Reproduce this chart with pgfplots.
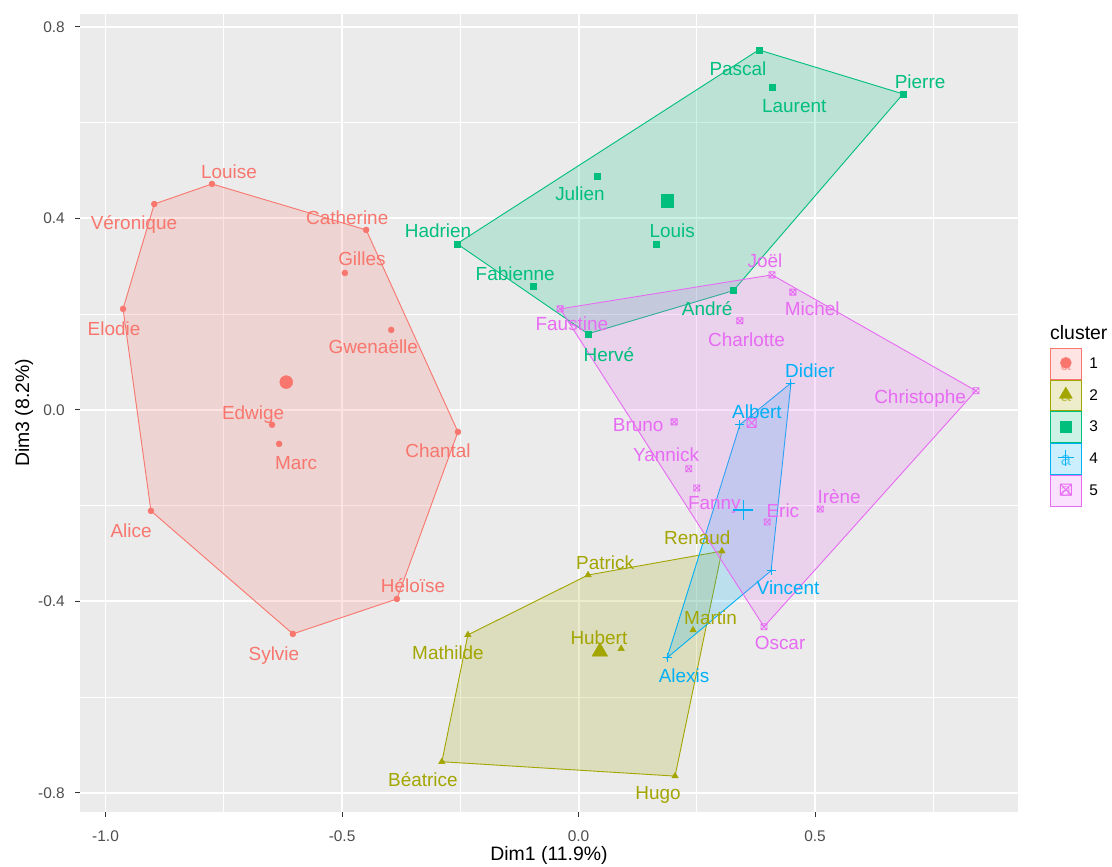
\documentclass[border=0pt]{standalone}
\usepackage{fontspec}
\setmainfont{Liberation Sans}
\usepackage{pgfplots}
\pgfplotsset{compat=1.18}
\usepackage{pgfplotstable}

\definecolor{c1}{HTML}{F8766D}
\definecolor{c2}{HTML}{A3A500}
\definecolor{c3}{HTML}{00BF7D}
\definecolor{c4}{HTML}{00B0F6}
\definecolor{c5}{HTML}{E76BF3}
\definecolor{panel}{HTML}{EBEBEB}
\definecolor{gray30}{HTML}{4D4D4D}
\definecolor{gray20}{HTML}{333333}

\pgfdeclareplotmark{sqx}{%
  \pgfpathrectangle{\pgfqpoint{-\pgfplotmarksize}{-\pgfplotmarksize}}{\pgfqpoint{2\pgfplotmarksize}{2\pgfplotmarksize}}%
  \pgfpathmoveto{\pgfqpoint{-\pgfplotmarksize}{-\pgfplotmarksize}}%
  \pgfpathlineto{\pgfqpoint{\pgfplotmarksize}{\pgfplotmarksize}}%
  \pgfpathmoveto{\pgfqpoint{-\pgfplotmarksize}{\pgfplotmarksize}}%
  \pgfpathlineto{\pgfqpoint{\pgfplotmarksize}{-\pgfplotmarksize}}%
  \pgfusepathqstroke}

\newcommand\labfont{\fontsize{19}{22}\selectfont}
\newcommand\tickfont{\fontsize{15.5}{18}\selectfont}
\newcommand\titlefont{\fontsize{19.5}{23}\selectfont}

% cluster points
\pgfplotstableread{
x y
-0.775 0.472
-0.897 0.430
-0.449 0.376
-0.494 0.286
-0.396 0.167
-0.963 0.211
-0.648 -0.031
-0.633 -0.071
-0.904 -0.211
-0.255 -0.046
-0.384 -0.395
-0.604 -0.468
}\clA
\pgfplotstableread{
x y
0.303 -0.295
0.020 -0.345
-0.234 -0.470
0.090 -0.499
0.242 -0.460
-0.289 -0.735
0.204 -0.765
}\clB
\pgfplotstableread{
x y
0.381 0.752
0.409 0.675
0.686 0.660
0.039 0.489
0.164 0.347
-0.257 0.347
-0.096 0.259
0.327 0.249
0.020 0.159
}\clC
\pgfplotstableread{
x y
0.449 0.056
0.341 -0.031
0.407 -0.336
0.187 -0.518
}\clD
\pgfplotstableread{
x y
0.409 0.282
0.453 0.246
0.341 0.186
-0.039 0.211
0.840 0.040
0.202 -0.025
0.233 -0.123
0.250 -0.163
0.399 -0.234
0.511 -0.207
0.392 -0.453
}\clE
% hulls
\pgfplotstableread{
x y
-0.775 0.472
-0.449 0.376
-0.255 -0.046
-0.384 -0.395
-0.604 -0.468
-0.904 -0.211
-0.963 0.211
-0.897 0.430
}\hA
\pgfplotstableread{
x y
0.303 -0.295
0.020 -0.345
-0.234 -0.470
-0.289 -0.735
0.204 -0.765
}\hB
\pgfplotstableread{
x y
-0.257 0.347
0.381 0.752
0.686 0.660
0.327 0.249
0.020 0.159
}\hC
\pgfplotstableread{
x y
0.341 -0.031
0.449 0.056
0.407 -0.336
0.187 -0.518
}\hD
\pgfplotstableread{
x y
-0.039 0.211
0.409 0.282
0.840 0.040
0.392 -0.453
}\hE
% centroids
\pgfplotstableread{
x y
-0.618 0.058
}\cenA
\pgfplotstableread{
x y
0.045 -0.505
}\cenB
\pgfplotstableread{
x y
0.187 0.437
}\cenC
\pgfplotstableread{
x y
0.348 -0.209
}\cenD
\pgfplotstableread{
x y
0.366 -0.027
}\cenE

\newcommand\lab[4]{\node[font=\labfont, text=#1, anchor=base, yshift=-7bp, inner sep=0pt] at (axis cs:#2,#3) {#4};}

\newcommand\keyimg[3]{% color, mark options, number
  \draw[#1, fill=#1, fill opacity=0.2, line width=0.9bp] (0bp,-15.4bp) rectangle (30.8bp,15.4bp);
  \node[text=#1, font=\labfont, inner sep=0pt, anchor=center, opacity=0.6] at (15.4bp,-2bp) {a};
  \draw[#1, fill=#1, #2] plot coordinates {(15.4bp,1bp)};
  \node[anchor=west, inner sep=0pt, font=\tickfont, text=black] at (39bp,0bp) {#3};
}

\begin{document}
\begin{tikzpicture}
\useasboundingbox (0,0) rectangle (1112bp,867bp);
\begin{axis}[
  at={(80bp,55bp)}, anchor=south west,
  scale only axis, width=938bp, height=798bp,
  xmin=-1.054, xmax=0.929, ymin=-0.840, ymax=0.827,
  axis background/.style={fill=panel},
  axis line style={draw=none},
  xtick={-1,-0.5,0,0.5}, xticklabels={-1.0,-0.5,0.0,0.5},
  ytick={-0.8,-0.4,0,0.4,0.8}, yticklabels={-0.8,-0.4,0.0,0.4,0.8},
  minor xtick={-0.75,-0.25,0.25,0.75},
  minor ytick={-0.6,-0.2,0.2,0.6},
  grid=both,
  major grid style={white, line width=1.9bp},
  minor grid style={white, line width=0.95bp},
  tick align=outside, major tick length=5bp, minor tick length=0pt,
  tick style={gray20, line width=1bp},
  xtick pos=left, ytick pos=left,
  xticklabel style={font=\tickfont, text=gray30, inner sep=0pt, anchor=north, yshift=-13.5bp},
  yticklabel style={font=\tickfont, text=gray30, inner sep=0pt, anchor=east, xshift=-10bp},
  xlabel={Dim1 (11.9\%)}, ylabel={Dim3 (8.2\%)},
  xlabel style={font=\titlefont, at={(axis description cs:0.5,-0.0539)}, anchor=center, inner sep=0pt},
  ylabel style={font=\titlefont, at={(axis description cs:-0.0597,0.5)}, anchor=center, inner sep=0pt, rotate=0},
  legend style={at={(axis description cs:1.0341,0.5815)}, anchor=north west, draw=none, fill=none,
    inner sep=0pt, outer sep=0pt, row sep=0pt, nodes={inner sep=0pt, outer sep=0pt}},
  legend cell align=left,
  clip=true,
]
\addlegendimage{legend image code/.code={\keyimg{c1}{mark=*, mark size=5.5bp}{1}}}
\addlegendentry{}
\addlegendimage{legend image code/.code={\keyimg{c2}{mark=triangle*, mark size=7.5bp}{2}}}
\addlegendentry{}
\addlegendimage{legend image code/.code={\keyimg{c3}{mark=square*, mark size=5.5bp}{3}}}
\addlegendentry{}
\addlegendimage{legend image code/.code={\keyimg{c4}{mark=+, mark size=8bp, line width=1bp}{4}}}
\addlegendentry{}
\addlegendimage{legend image code/.code={\keyimg{c5}{mark=sqx, mark size=5.5bp, line width=1bp, fill opacity=0.2}{5}}}
\addlegendentry{}

% points
\addplot[forget plot, only marks, mark=*, mark size=3bp, draw=c1, fill=c1] table {\clA};
\addplot[forget plot, only marks, mark=triangle*, mark size=3.8bp, draw=c2, fill=c2] table {\clB};
\addplot[forget plot, only marks, mark=square*, mark size=3bp, draw=c3, fill=c3] table {\clC};
\addplot[forget plot, only marks, mark=+, mark size=4.5bp, draw=c4, line width=1bp] table {\clD};
\addplot[forget plot, only marks, mark=sqx, mark size=3bp, draw=c5, line width=0.8bp] table {\clE};
% centroids
\addplot[forget plot, only marks, mark=*, mark size=6.5bp, draw=c1, fill=c1] table {\cenA};
\addplot[forget plot, only marks, mark=triangle*, mark size=9bp, draw=c2, fill=c2] table {\cenB};
\addplot[forget plot, only marks, mark=square*, mark size=6.3bp, draw=c3, fill=c3] table {\cenC};
\addplot[forget plot, only marks, mark=+, mark size=10bp, draw=c4, line width=1.2bp] table {\cenD};
\addplot[forget plot, only marks, mark=sqx, mark size=4.5bp, draw=c5, line width=1bp] table {\cenE};
% hulls
\addplot[forget plot, draw=c1, line width=0.9bp, fill=c1, fill opacity=0.2] table {\hA} -- cycle;
\addplot[forget plot, draw=c2, line width=0.9bp, fill=c2, fill opacity=0.2] table {\hB} -- cycle;
\addplot[forget plot, draw=c3, line width=0.9bp, fill=c3, fill opacity=0.2] table {\hC} -- cycle;
\addplot[forget plot, draw=c4, line width=0.9bp, fill=c4, fill opacity=0.2] table {\hD} -- cycle;
\addplot[forget plot, draw=c5, line width=0.9bp, fill=c5, fill opacity=0.2] table {\hE} -- cycle;

% labels
\lab{c1}{-0.739}{0.499}{Louise}
\lab{c1}{-0.940}{0.391}{Véronique}
\lab{c1}{-0.489}{0.401}{Catherine}
\lab{c1}{-0.458}{0.317}{Gilles}
\lab{c1}{-0.434}{0.132}{Gwenaëlle}
\lab{c1}{-0.982}{0.171}{Elodie}
\lab{c1}{-0.688}{-0.006}{Edwige}
\lab{c1}{-0.597}{-0.109}{Marc}
\lab{c1}{-0.946}{-0.251}{Alice}
\lab{c1}{-0.297}{-0.084}{Chantal}
\lab{c1}{-0.350}{-0.366}{Héloïse}
\lab{c1}{-0.644}{-0.508}{Sylvie}
\lab{c3}{0.337}{0.714}{Pascal}
\lab{c3}{0.456}{0.635}{Laurent}
\lab{c3}{0.722}{0.687}{Pierre}
\lab{c3}{0.003}{0.451}{Julien}
\lab{c3}{-0.297}{0.374}{Hadrien}
\lab{c3}{0.198}{0.374}{Louis}
\lab{c3}{-0.134}{0.284}{Fabienne}
\lab{c3}{0.272}{0.211}{André}
\lab{c3}{0.064}{0.115}{Hervé}
\lab{c5}{0.394}{0.313}{Joël}
\lab{c5}{0.494}{0.211}{Michel}
\lab{c5}{0.355}{0.146}{Charlotte}
\lab{c5}{-0.014}{0.180}{Faustine}
\lab{c5}{0.722}{0.029}{Christophe}
\lab{c5}{0.126}{-0.031}{Bruno}
\lab{c5}{0.185}{-0.094}{Yannick}
\lab{c5}{0.287}{-0.194}{Fanny}
\lab{c5}{0.432}{-0.211}{Eric}
\lab{c5}{0.551}{-0.180}{Irène}
\lab{c5}{0.426}{-0.485}{Oscar}
\lab{c4}{0.489}{0.082}{Didier}
\lab{c4}{0.377}{-0.004}{Albert}
\lab{c4}{0.443}{-0.370}{Vincent}
\lab{c4}{0.223}{-0.554}{Alexis}
\lab{c2}{0.251}{-0.267}{Renaud}
\lab{c2}{0.056}{-0.319}{Patrick}
\lab{c2}{-0.276}{-0.506}{Mathilde}
\lab{c2}{0.043}{-0.476}{Hubert}
\lab{c2}{0.279}{-0.434}{Martin}
\lab{c2}{-0.329}{-0.773}{Béatrice}
\lab{c2}{0.168}{-0.800}{Hugo}
\end{axis}
\node[anchor=west, inner sep=0pt, font=\titlefont] at (1050bp,534bp) {cluster};
\end{tikzpicture}
\end{document}
